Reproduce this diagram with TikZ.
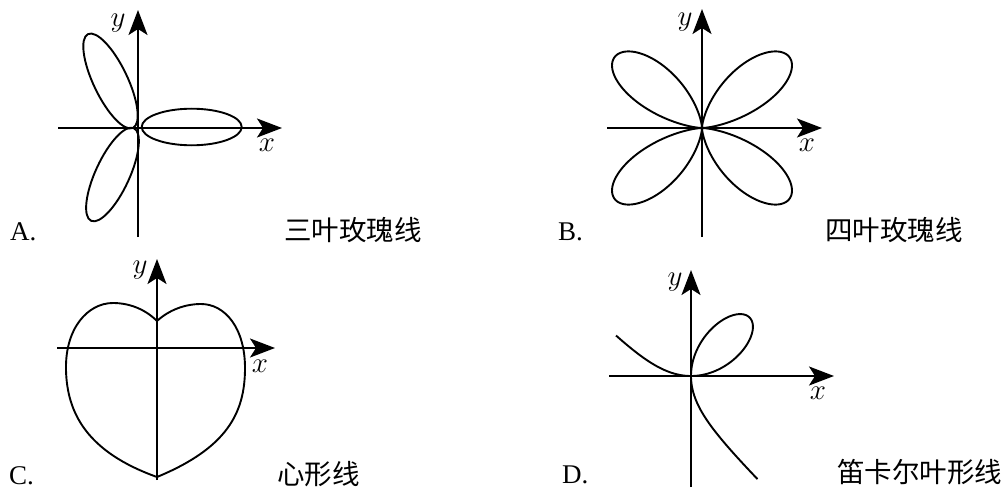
\RequirePackage{fix-cm}
\documentclass[tikz,border=0pt]{standalone}
\usepackage{fontspec}
\setmainfont{Liberation Serif}
\newfontfamily\cjk{Noto Sans CJK SC}
\usetikzlibrary{arrows.meta}
\tikzset{
  axisline/.style={line width=1.9pt,-{Stealth[length=25pt,width=19pt,inset=6pt]}},
  curveline/.style={line width=1.9pt,line join=round},
  axislabel/.style={font=\fontsize{29}{31}\selectfont,inner sep=0pt},
  optlabel/.style={font=\fontsize{27}{30}\selectfont,inner sep=0pt,anchor=base west},
  namelabel/.style={font=\cjk\fontsize{27.5}{30}\selectfont,inner sep=0pt,anchor=base west},
}

\begin{document}
\begin{tikzpicture}[x=1pt,y=1pt]
\useasboundingbox (0,0) rectangle (1003,491);

% ================= A: three-leaf rose =================
\begin{scope}[shift={(138,363)}]
  \coordinate (A-w) at (-80,0);
  \coordinate (A-e) at (144,0);
  \coordinate (A-s) at (0,-109);
  \coordinate (A-n) at (0,118);
  % leaf along +x
  \draw[curveline] (53.7,1) ellipse [x radius=50, y radius=18.3];
  % upper and lower leaves
  \draw[curveline,shift={(-27.5,47)},rotate=115.6] (0,0) ellipse [x radius=52, y radius=17];
  \draw[curveline,shift={(-25.5,-46.5)},rotate=-114.8] (0,0) ellipse [x radius=51, y radius=17];
  \draw[axisline] (A-w) -- (A-e);
  \draw[axisline] (A-s) -- (A-n);
  \node[axislabel] (A-xl) at (129,-17) {$x$};
  \node[axislabel] (A-yl) at (-20,105) {$y$};
\end{scope}
\node[optlabel] (A-opt) at (10,251) {A.};
\node[namelabel] (A-name) at (284,251) {三叶玫瑰线};

% ================= B: four-leaf rose =================
\begin{scope}[shift={(702,363)}]
  \coordinate (B-w) at (-95,0);
  \coordinate (B-e) at (120,0);
  \coordinate (B-s) at (0,-109);
  \coordinate (B-n) at (0,119);
  \draw[curveline] plot[domain=0:360,samples=721,smooth]
    ({121*sin(2*\x)*sin(2*\x)*cos(\x)},{103*sin(2*\x)*sin(2*\x)*sin(\x)});
  \draw[axisline] (B-w) -- (B-e);
  \draw[axisline] (B-s) -- (B-n);
  \node[axislabel] (B-xl) at (105,-17) {$x$};
  \node[axislabel] (B-yl) at (-17,106) {$y$};
\end{scope}
\node[optlabel] (B-opt) at (558,251) {B.};
\node[namelabel] (B-name) at (825,251) {四叶玫瑰线};

% ================= C: heart =================
\begin{scope}[shift={(157,143)}]
  \coordinate (C-w) at (-100,0);
  \coordinate (C-e) at (118,0);
  \coordinate (C-s) at (0,-132);
  \coordinate (C-n) at (0,89);
  \coordinate (C-top) at (0,27);
  \coordinate (C-bot) at (0,-129);
  \draw[curveline] (C-top) .. controls (12,38) and (28,44) .. (44,44)
    .. controls (68,44) and (88,20) .. (88,-20)
    .. controls (88,-65) and (70,-100) .. (C-bot);
  \draw[curveline] (C-top) .. controls (-12,39) and (-28,45) .. (-44,45)
    .. controls (-69,45) and (-92,20) .. (-91,-22)
    .. controls (-90,-65) and (-70,-104) .. (C-bot);
  \draw[axisline] (C-w) -- (C-e);
  \draw[axisline] (C-s) -- (C-n);
  \node[axislabel] (C-xl) at (103,-18) {$x$};
  \node[axislabel] (C-yl) at (-17,78) {$y$};
\end{scope}
\node[optlabel] (C-opt) at (9,7) {C.};
\node[namelabel] (C-name) at (277,7) {心形线};

% ================= D: folium of Descartes =================
\begin{scope}[shift={(691,115)}]
  \def\fola{39}   % loop size a
  \coordinate (D-w) at (-82,0);
  \coordinate (D-e) at (143,0);
  \coordinate (D-s) at (0,-111);
  \coordinate (D-n) at (0,106);
  % loop
  \draw[curveline] plot[domain=0:90,samples=181,smooth]
    ({3*\fola*sin(\x)*cos(\x)*cos(\x)/(pow(sin(\x),3)+pow(cos(\x),3))},
     {3*\fola*sin(\x)*cos(\x)*sin(\x)/(pow(sin(\x),3)+pow(cos(\x),3))});
  % the two branches
  \draw[curveline] plot[domain=-0.54:0,samples=60,smooth]
    ({3*\fola*\x/(1+\x*\x*\x)},{3*\fola*\x*\x/(1+\x*\x*\x)});
  \draw[curveline] plot[domain=-0.645:0,samples=60,smooth]
    ({3*\fola*\x*\x/(1+\x*\x*\x)},{3*\fola*\x/(1+\x*\x*\x)});
  \draw[axisline] (D-w) -- (D-e);
  \draw[axisline] (D-s) -- (D-n);
  \node[axislabel] (D-xl) at (127,-17) {$x$};
  \node[axislabel] (D-yl) at (-16,94) {$y$};
\end{scope}
\node[optlabel] (D-opt) at (562,8) {D.};
\node[namelabel] (D-name) at (837,9) {笛卡尔叶形线};
\end{tikzpicture}
\end{document}
